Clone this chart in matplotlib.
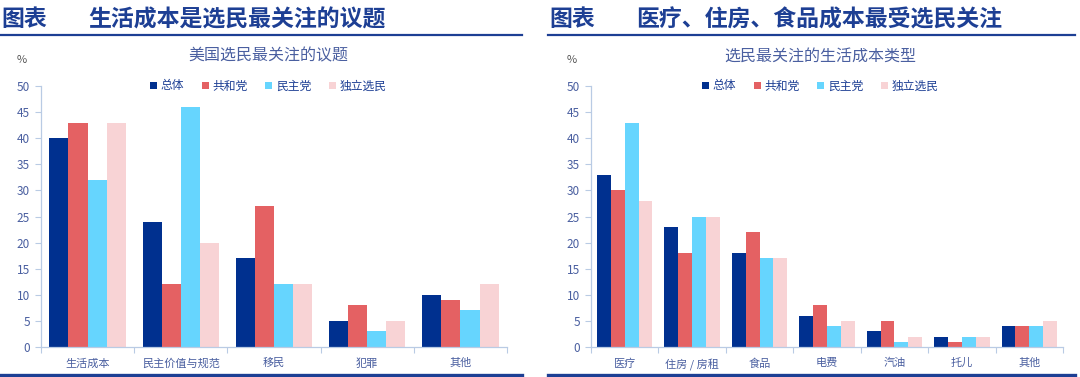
import numpy as np
import matplotlib
matplotlib.use("Agg")
import matplotlib.pyplot as plt
from matplotlib.lines import Line2D

plt.rcParams['font.family'] = ['Noto Sans CJK SC', 'DejaVu Sans']

# dados do gráfico da esquerda
series = ["总体", "共和党", "民主党", "独立选民"]
cats_esq = ["生活成本", "民主价值与规范", "移民", "犯罪", "其他"]
total_esq = [40, 24, 17, 5, 10]
rep_esq = [43, 12, 27, 8, 9]
dem_esq = [32, 46, 12, 3, 7]
ind_esq = [43, 20, 12, 5, 12]

# dados do gráfico da direita
cats_dir = ["医疗", "住房 / 房租", "食品", "电费", "汽油", "托儿", "其他"]
total_dir = [33, 23, 18, 6, 3, 2, 4]
rep_dir = [30, 18, 22, 8, 5, 1, 4]
dem_dir = [43, 25, 17, 4, 1, 2, 4]
ind_dir = [28, 25, 17, 5, 2, 2, 5]

cores = ["#00308f", "#e46163", "#66d5fe", "#f8d3d5"]
AZUL = "#1d3f94"
TXT = "#4a5fa0"
EIXO = "#b9cbe4"

W, H = 1080, 377
fig = plt.figure(figsize=(W / 100, H / 100), dpi=100)


def fx(x):
    return x / W


def fy(y):
    return 1 - y / H


def painel(x0, x1, header, sub, cats, dados, ax_left, ax_right, centro):
    # cabeçalho
    fig.text(fx(x0 + 1), fy(20), "图表", fontsize=16.5, fontweight="bold",
             color=AZUL, va="center", ha="left")
    fig.text(fx(x0 + 88), fy(20), header, fontsize=16.5, fontweight="bold",
             color=AZUL, va="center", ha="left")
    fig.add_artist(Line2D([fx(x0), fx(x1)], [fy(35), fy(35)],
                          color=AZUL, lw=1.6, transform=fig.transFigure))
    fig.add_artist(Line2D([fx(x0), fx(x1)], [fy(375), fy(375)],
                          color=AZUL, lw=2.4, transform=fig.transFigure))

    # subtítulo e unidade
    fig.text(fx(centro), fy(56), sub, fontsize=11.5, color=TXT,
             ha="center", va="center")
    fig.text(fx(ax_left - 19), fy(60), "%", fontsize=8, color="#555555",
             ha="center", va="center")

    ax = fig.add_axes([fx(ax_left), fy(347), fx(ax_right - ax_left), (347 - 86) / H])
    n = len(cats)
    x = np.arange(n)
    w = 0.205
    for i, (nome, vals) in enumerate(zip(series, dados)):
        ax.bar(x + (i - 1.5) * w, vals, width=w, color=cores[i], label=nome)

    ax.set_xlim(-0.5, n - 0.5)
    ax.set_ylim(0, 50)
    ax.set_yticks(np.arange(0, 51, 5))
    ax.set_xticks(x)
    ax.set_xticklabels(cats, fontsize=8, color=TXT)
    ax.set_xticks(np.arange(-0.5, n, 1), minor=True)
    ax.tick_params(axis="x", which="major", length=0, pad=8)
    ax.tick_params(axis="x", which="minor", length=4, color=EIXO, width=0.8)
    ax.tick_params(axis="y", length=4, color=EIXO, width=0.8,
                   labelsize=8.5, labelcolor=TXT, pad=4)
    for s in ["top", "right"]:
        ax.spines[s].set_visible(False)
    for s in ["left", "bottom"]:
        ax.spines[s].set_color(EIXO)
        ax.spines[s].set_linewidth(0.9)

    # legenda centrada no ponto indicado
    cx = (centro - ax_left) / (ax_right - ax_left)
    ax.legend(loc="center", bbox_to_anchor=(cx, 1.0), ncol=4,
              frameon=False, fontsize=8.5, handlelength=0.6, handleheight=0.6,
              handletextpad=0.3, columnspacing=1.5, labelcolor=AZUL)
    return ax


painel(0, 522, "生活成本是选民最关注的议题", "美国选民最关注的议题", cats_esq,
       [total_esq, rep_esq, dem_esq, ind_esq], 41, 507, 268)
painel(548, 1075, "医疗、住房、食品成本最受选民关注", "选民最关注的生活成本类型", cats_dir,
       [total_dir, rep_dir, dem_dir, ind_dir], 591, 1063, 820)

plt.savefig("out.png", dpi=100)
